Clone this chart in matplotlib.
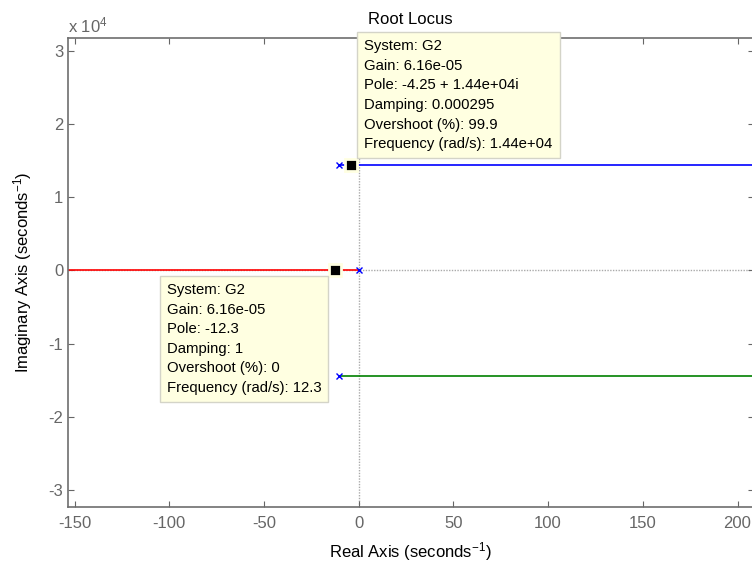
import numpy as np
import matplotlib
matplotlib.use('Agg')
import matplotlib.pyplot as plt
from matplotlib.ticker import FuncFormatter

plt.rcParams['font.family'] = ['Liberation Sans', 'DejaVu Sans']
plt.rcParams['mathtext.fontset'] = 'custom'
plt.rcParams['mathtext.rm'] = 'Liberation Sans'
plt.rcParams['mathtext.it'] = 'Liberation Sans:italic'
plt.rcParams['axes.unicode_minus'] = False

# open-loop poles (real, imaginary)
pole_re = [0, -10.2, -10.2]
pole_im = [0, 1.44e4, -1.44e4]

# root locus branches (they run on past the visible window)
red_re = [0, -12.3, -160]
red_im = [0, 0, 0]
blue_re = [-10.2, -4.25, 250]
blue_im = [1.44e4, 1.44e4, 1.44e4]
green_re = [-10.2, 250]
green_im = [-1.44e4, -1.44e4]

# data tips
tip_re = [-4.25, -12.3]
tip_im = [1.44e4, 0]
tip_text = [
    "System: G2\nGain: 6.16e-05\nPole: -4.25 + 1.44e+04i\nDamping: 0.000295\n"
    "Overshoot (%): 99.9\nFrequency (rad/s): 1.44e+04",
    "System: G2\nGain: 6.16e-05\nPole: -12.3\nDamping: 1\n"
    "Overshoot (%): 0\nFrequency (rad/s): 12.3",
]

x_ticks = [-150, -100, -50, 0, 50, 100, 150, 200]
y_ticks = [-3e4, -2e4, -1e4, 0, 1e4, 2e4, 3e4]

gray = '#666666'

fig = plt.figure(figsize=(7.52, 5.65), dpi=100)
ax = fig.add_axes([68 / 752, (565 - 506.7) / 565, (753.6 - 68) / 752, (506.7 - 38.3) / 565])

# dotted axes lines through the origin
ax.axhline(0, color='#aaaaaa', lw=1, ls=(0, (1, 1)), zorder=1)
ax.axvline(0, color='#aaaaaa', lw=1, ls=(0, (1, 1)), zorder=1)

ax.plot(red_re, red_im, color='#ff0000', lw=1.2, zorder=2)
ax.plot(blue_re, blue_im, color='#0000ff', lw=1.2, zorder=2)
ax.plot(green_re, green_im, color='#008000', lw=1.2, zorder=2)
ax.plot(pole_re, pole_im, 'x', color='#0000ff', ms=4.5, mew=1, zorder=3)

# data tip markers
ax.plot(tip_re, tip_im, 's', color='black', ms=8.5, mec='#ffffe1', mew=2, zorder=4)

box = dict(boxstyle='square,pad=0.47', fc='#ffffe1', ec='#d4d4c8', lw=1)
ax.annotate(tip_text[0], xy=(tip_re[0], tip_im[0]), xytext=(9.8, 10), textcoords='offset points',
            ha='left', va='bottom', multialignment='left', fontsize=10.7, linespacing=1.51,
            bbox=box, zorder=5)
ax.annotate(tip_text[1], xy=(tip_re[1], tip_im[1]), xytext=(-10.1, -9), textcoords='offset points',
            ha='right', va='top', multialignment='left', fontsize=10.7, linespacing=1.51,
            bbox=box, zorder=5)

ax.set_xlim(-153.5, 208.5)
ax.set_ylim(-3.225e4, 3.17e4)
ax.set_xticks(x_ticks)
ax.set_yticks(y_ticks)
ax.yaxis.set_major_formatter(FuncFormatter(lambda v, p: '%g' % (v / 1e4)))

ax.tick_params(direction='in', length=4, width=0.8, color=gray, labelcolor=gray,
               labelsize=12, top=True, right=True)
ax.tick_params(axis='x', pad=7)
ax.tick_params(axis='y', pad=3.5)
for s in ax.spines.values():
    s.set_color('#6e6e6e')
    s.set_linewidth(1.2)

ax.set_title('Root Locus', fontsize=12, pad=10)
ax.set_xlabel('Real Axis (seconds$^{-1}$)', fontsize=12, labelpad=6)
ax.set_ylabel('Imaginary Axis (seconds$^{-1}$)', fontsize=12, labelpad=10)
fig.text(68 / 752, 1 - 32 / 565, 'x 10$^{4}$', color=gray, fontsize=12, ha='left', va='baseline')

fig.savefig('out.png', dpi=100)
